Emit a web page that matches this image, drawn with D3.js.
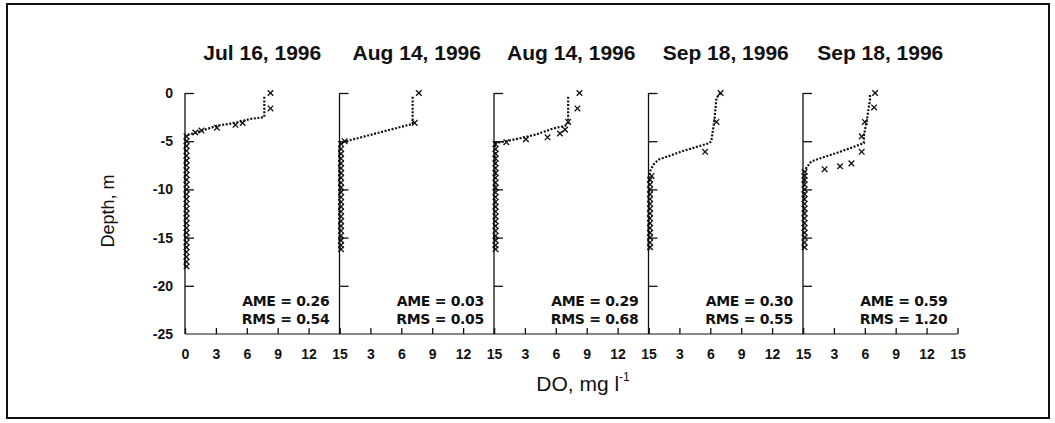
<!DOCTYPE html>
<html><head><meta charset="utf-8">
<script src="https://cdn.jsdelivr.net/npm/d3@7"></script>
<style>
html,body{margin:0;padding:0;background:#fff;}
svg{display:block;font-family:"Liberation Sans",Arial,sans-serif;}
</style></head>
<body>
<svg id="chart" width="1055" height="423"></svg>
<script>
const titles = ["Jul 16, 1996","Aug 14, 1996","Aug 14, 1996","Sep 18, 1996","Sep 18, 1996"];
const ameVals = ["0.26","0.03","0.29","0.30","0.59"];
const rmsVals = ["0.54","0.05","0.68","0.55","1.20"];
const xTicks = [0,3,6,9,12,15];
const yTicks = [0,-5,-10,-15,-20,-25];

// model profiles [DO, depth]
const model1 = [[7.7,-0.4],[7.7,-2.5],[6.3,-2.7],[4.9,-3.1],[3.1,-3.4],[1.95,-3.8],[0.8,-4.2],[0.1,-4.4],[0,-4.6],[0,-18.2]];
const model2 = [[7.1,-0.4],[7.1,-3.2],[0.3,-5.1],[0,-5.3],[0,-16.3]];
const model3 = [[7.2,-0.4],[7.2,-3.1],[6.9,-3.4],[5.7,-3.7],[4.1,-4.3],[2.9,-4.6],[1.2,-5.0],[0.1,-5.2],[0,-16.3]];
const model4 = [[7.0,0],[6.6,-0.5],[6.4,-2.8],[6.1,-5.0],[5.9,-5.2],[3.4,-6.0],[1.0,-6.9],[0.5,-7.4],[0.2,-8.0],[0.05,-8.8],[0,-16.3]];
const model5 = [[6.5,-0.2],[6.5,-0.7],[6.2,-2.8],[5.9,-4.5],[5.9,-5.2],[3.6,-6.1],[1.6,-6.8],[0.8,-7.1],[0.3,-7.8],[0.1,-8.7],[0,-16.3]];

// observations [DO, depth]
const obs1 = [[8.3,0],[8.3,-1.6],[5.6,-3.1],[4.9,-3.3],[3.1,-3.6],[1.6,-3.9],[1.0,-4.1],
  [0.15,-4.5],[0.15,-5],[0.15,-5.5],[0.15,-6],[0.15,-6.5],[0.15,-7],[0.15,-7.5],[0.15,-8],[0.15,-8.5],[0.15,-9],
  [0.15,-9.5],[0.15,-10],[0.15,-10.5],[0.15,-11],[0.15,-11.5],[0.15,-12],[0.15,-12.5],[0.15,-13],[0.15,-13.5],
  [0.15,-14],[0.15,-14.5],[0.15,-15],[0.15,-15.5],[0.15,-16],[0.15,-16.5],[0.15,-17],[0.15,-17.5],[0.15,-18]];
const obs2 = [[7.7,0],[7.3,-3.1],[0.5,-5.0],
  [0.15,-5.3],[0.15,-5.8],[0.15,-6.3],[0.15,-6.8],[0.15,-7.3],[0.15,-7.8],[0.15,-8.3],[0.15,-8.8],[0.15,-9.3],
  [0.15,-9.8],[0.15,-10.3],[0.15,-10.8],[0.15,-11.3],[0.15,-11.8],[0.15,-12.3],[0.15,-12.8],[0.15,-13.3],
  [0.15,-13.8],[0.15,-14.3],[0.15,-14.8],[0.15,-15.3],[0.15,-15.8],[0.15,-16.2]];
const obs3 = [[8.3,0],[8.1,-1.6],[7.2,-3.0],[6.9,-3.8],[6.4,-4.2],[5.2,-4.6],[3.1,-4.8],[1.2,-5.1],
  [0.15,-5.3],[0.15,-5.8],[0.15,-6.3],[0.15,-6.8],[0.15,-7.3],[0.15,-7.8],[0.15,-8.3],[0.15,-8.8],[0.15,-9.3],
  [0.15,-9.8],[0.15,-10.3],[0.15,-10.8],[0.15,-11.3],[0.15,-11.8],[0.15,-12.3],[0.15,-12.8],[0.15,-13.3],
  [0.15,-13.8],[0.15,-14.3],[0.15,-14.8],[0.15,-15.3],[0.15,-15.8],[0.15,-16.2]];
const obs4 = [[7.0,0],[6.6,-3.0],[5.5,-6.1],[0.3,-8.6],
  [0.15,-9.0],[0.15,-9.5],[0.15,-10.0],[0.15,-10.5],[0.15,-11.0],[0.15,-11.5],[0.15,-12.0],[0.15,-12.5],
  [0.15,-13.0],[0.15,-13.5],[0.15,-14.0],[0.15,-14.5],[0.15,-15.0],[0.15,-15.5],[0.15,-16.0]];
const obs5 = [[7.0,0],[6.9,-1.5],[6.0,-3.0],[5.7,-4.5],[5.7,-6.1],[4.7,-7.3],[3.6,-7.6],[2.1,-7.9],
  [0.15,-8.2],[0.15,-8.6],[0.15,-9.0],[0.15,-9.5],[0.15,-10.0],[0.15,-10.5],[0.15,-11.0],[0.15,-11.5],[0.15,-12.0],[0.15,-12.5],
  [0.15,-13.0],[0.15,-13.5],[0.15,-14.0],[0.15,-14.5],[0.15,-15.0],[0.15,-15.5],[0.15,-16.0]];

const models = [model1,model2,model3,model4,model5];
const observations = [obs1,obs2,obs3,obs4,obs5];

const svg = d3.select("#chart");
svg.append("rect").attr("x",7).attr("y",4).attr("width",1042).attr("height",414)
  .attr("fill","none").attr("stroke","#111").attr("stroke-width",2);

const plotLeft = 185, panelW = 154.5, plotTop = 93, plotBottom = 334;
const y = d3.scaleLinear().domain([0,-25]).range([plotTop,plotBottom]);
const ink = "#111";
const fmt = d => String(d);

// y axis labels (first panel)
const yAxisG = svg.append("g").attr("transform",`translate(${plotLeft},0)`);
yAxisG.call(d3.axisLeft(y).tickValues(yTicks).tickSize(0).tickPadding(12).tickFormat(fmt));
yAxisG.select(".domain").remove();
yAxisG.selectAll("text").attr("font-size",14).attr("font-weight","bold").attr("fill",ink);

// baseline
svg.append("line").attr("x1",plotLeft).attr("x2",plotLeft+5*panelW).attr("y1",plotBottom).attr("y2",plotBottom)
  .attr("stroke",ink).attr("stroke-width",1);

const line = d3.line();

titles.forEach((t,i)=>{
  const x0 = plotLeft + i*panelW;
  const x = d3.scaleLinear().domain([0,15]).range([x0,x0+panelW]);
  const g = svg.append("g");

  // y axis line with inward ticks
  const ya = g.append("g").attr("transform",`translate(${x0},0)`)
    .call(d3.axisRight(y).tickValues(yTicks.slice(0,5)).tickSize(9).tickFormat(""));
  ya.select(".domain").attr("d",`M0,${plotTop}V${plotBottom}`).attr("stroke",ink).attr("stroke-width",1.3);
  ya.selectAll(".tick line").attr("stroke",ink).attr("stroke-width",1.3);

  // x ticks
  const xa = g.append("g").attr("transform",`translate(0,${plotBottom})`)
    .call(d3.axisTop(x).tickValues(xTicks).tickSize(6).tickFormat(""));
  xa.select(".domain").remove();
  xa.selectAll(".tick line").attr("stroke",ink).attr("stroke-width",1.3);
  const labs = g.append("g").attr("transform",`translate(0,${plotBottom})`)
    .call(d3.axisBottom(x).tickValues(i===0?xTicks:xTicks.slice(1)).tickSize(0).tickPadding(15).tickFormat(fmt));
  labs.select(".domain").remove();
  labs.selectAll("text").attr("font-size",14).attr("font-weight","bold").attr("fill",ink);

  // title
  g.append("text").attr("x",x0+panelW/2).attr("y",60).attr("text-anchor","middle")
    .attr("font-size",21).attr("font-weight","bold").attr("fill",ink).text(t);

  // model line (dotted)
  g.append("path").attr("d",line(models[i].map(d=>[x(d[0]),y(d[1])])))
    .attr("fill","none").attr("stroke",ink).attr("stroke-width",2.2).attr("stroke-dasharray","2,1.6");

  // observations as x markers
  g.selectAll(".obs").data(observations[i]).join("path").attr("class","obs")
    .attr("transform",d=>`translate(${x(d[0])},${y(d[1])})`)
    .attr("d","M-2.8,-2.8L2.8,2.8M-2.8,2.8L2.8,-2.8")
    .attr("stroke",ink).attr("stroke-width",1.3).attr("fill","none");

  // stats
  g.append("text").attr("x",x0+panelW-10).attr("y",306).attr("text-anchor","end")
    .attr("font-family","'DejaVu Sans',sans-serif").attr("font-size",14).attr("font-weight","bold")
    .attr("letter-spacing","-0.3").attr("fill",ink).text("AME = " + ameVals[i]);
  g.append("text").attr("x",x0+panelW-10).attr("y",323.5).attr("text-anchor","end")
    .attr("font-family","'DejaVu Sans',sans-serif").attr("font-size",14).attr("font-weight","bold")
    .attr("letter-spacing","-0.3").attr("fill",ink).text("RMS = " + rmsVals[i]);
});

// axis titles
svg.append("text").attr("transform","translate(114,211) rotate(-90)").attr("text-anchor","middle")
  .attr("font-size",18).attr("fill",ink).text("Depth, m");
const xl = svg.append("text").attr("x",583).attr("y",391).attr("text-anchor","middle")
  .attr("font-size",21).attr("fill",ink);
xl.append("tspan").text("DO, mg l");
xl.append("tspan").attr("font-size",12).attr("dy",-10).text("-1");
</script>
</body></html>
